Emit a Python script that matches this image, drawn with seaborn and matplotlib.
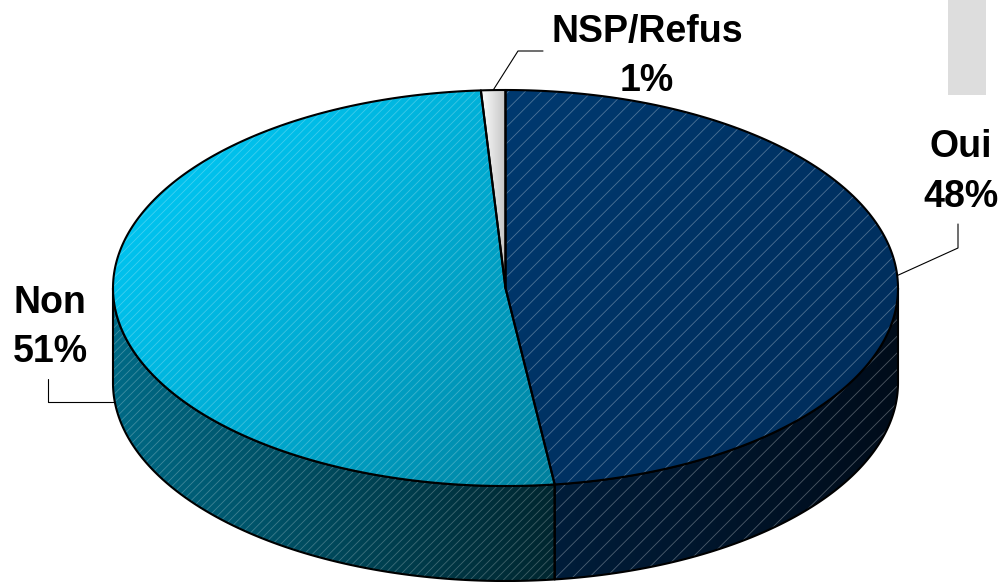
import numpy as np
import matplotlib
matplotlib.use("Agg")
import matplotlib.pyplot as plt
import seaborn as sns
from matplotlib.patches import Polygon, Rectangle
from matplotlib.colors import to_rgb

# donnees du graphique
categories = ["Oui", "Non", "NSP/Refus"]
values = [48, 51, 1]
pct_labels = ["48%", "51%", "1%"]

# couleurs (dessus, cote) : debut et fin du degrade
top_colors = [("#003a70", "#002b58"), ("#00c8f5", "#007f9c"), ("#ffffff", "#c4c4c4")]
side_colors = [("#001d3a", "#000c1a"), ("#006a86", "#00262f"), ("#bbbbbb", "#999999")]
hatches = ["//", "////", ""]
hatch_alpha = [0.3, 0.25, 0.0]

sns.set_theme(style="white")
plt.rcParams["font.family"] = ["Liberation Sans", "DejaVu Sans"]
plt.rcParams["hatch.linewidth"] = 0.6

W, H = 1003, 582
fig = plt.figure(figsize=(W / 100, H / 100), dpi=100)
ax = fig.add_axes([0, 0, 1, 1])
ax.set_xlim(0, W)
ax.set_ylim(H, 0)
ax.axis("off")

# geometrie du camembert 3D (en pixels)
cx, cy, rx, ry, depth = 505.5, 288, 392.5, 198, 95


def pt(theta):
    t = np.radians(theta)
    return cx + rx * np.cos(t), cy - ry * np.sin(t)


def arc(a0, a1, n=200):
    th = np.linspace(a0, a1, n)
    x, y = pt(th)
    return np.column_stack([x, y])


gx, gy = np.meshgrid(np.linspace(0, W, W), np.linspace(0, H, H))


def gradient_fill(verts, c1, c2, p0, p1, hatch, alpha, zorder, gamma=1.0):
    # degrade lineaire clippe sur le polygone
    poly = Polygon(verts, closed=True, facecolor="none", edgecolor="none")
    ax.add_patch(poly)
    d = np.array(p1) - np.array(p0)
    t = ((gx - p0[0]) * d[0] + (gy - p0[1]) * d[1]) / (d @ d)
    t = (np.clip(t, 0, 1) ** gamma)[..., None]
    img = (1 - t) * np.array(to_rgb(c1)) + t * np.array(to_rgb(c2))
    im = ax.imshow(img, extent=(0, W, H, 0), origin="upper", zorder=zorder, interpolation="bilinear")
    im.set_clip_path(poly)
    if hatch:
        ax.add_patch(Polygon(verts, closed=True, facecolor="none", edgecolor=(1, 1, 1, alpha),
                             lw=0, hatch=hatch, zorder=zorder + 0.1))
    ax.add_patch(Polygon(verts, closed=True, facecolor="none", edgecolor="black",
                         lw=1.5, zorder=zorder + 0.2, joinstyle="round"))


fracs = np.array(values) / sum(values)
starts = 90 - 360 * np.concatenate([[0], np.cumsum(fracs)[:-1]])
ends = starts - 360 * fracs

# cotes visibles (moitie avant)
for i in range(len(values)):
    for k in (0, -360):
        lo = max(ends[i], -180 + k)
        hi = min(starts[i], 0 + k)
        if lo < hi:
            top = arc(hi, lo)
            bot = top[::-1] + [0, depth]
            verts = np.vstack([top, bot])
            x0, x1 = verts[:, 0].min(), verts[:, 0].max()
            gradient_fill(verts, side_colors[i][0], side_colors[i][1],
                          (x0, cy), (x1, cy), hatches[i], hatch_alpha[i], 2)

# dessus
for i in range(len(values)):
    verts = np.vstack([[cx, cy], arc(starts[i], ends[i])])
    x0, x1 = verts[:, 0].min(), verts[:, 0].max()
    y0, y1 = verts[:, 1].min(), verts[:, 1].max()
    if i == 2:
        p0, p1 = (x0, y0), (x1, y0)
    else:
        p0, p1 = (x0, y0), (x1, y1)
    gradient_fill(verts, top_colors[i][0], top_colors[i][1], p0, p1, hatches[i], hatch_alpha[i], 5,
                  gamma=1.5 if i == 1 else 1.0)

# etiquettes et lignes de rappel
label_pos = {"Oui": (961, 157, 207), "Non": (50, 313, 362), "NSP/Refus": (647, 42, 91)}
mids = (starts + ends) / 2
for i, cat in enumerate(categories):
    x, yb1, yb2 = label_pos[cat]
    ax.text(x, yb1, cat, ha="center", va="baseline", fontsize=27, fontweight="bold", color="black")
    ax.text(x, yb2, pct_labels[i], ha="center", va="baseline", fontsize=27, fontweight="bold", color="black")

    ax_, ay_ = pt(mids[i])
    if cat == "Oui":
        xs, ys = [ax_, 958, 958], [ay_, 248, 224]
    elif cat == "Non":
        ay_ = ay_ + depth
        xs, ys = [ax_, 48, 48], [ay_, ay_, 379]
    else:
        xs, ys = [ax_, 518, 543], [ay_, 51, 51]
    ax.plot(xs, ys, color="black", lw=0.8, zorder=8)

# rectangle gris en haut a droite
ax.add_patch(Rectangle((948, 0), 38, 95, facecolor="#dddddd", edgecolor="none", zorder=1))

fig.savefig("out.png", dpi=100)
